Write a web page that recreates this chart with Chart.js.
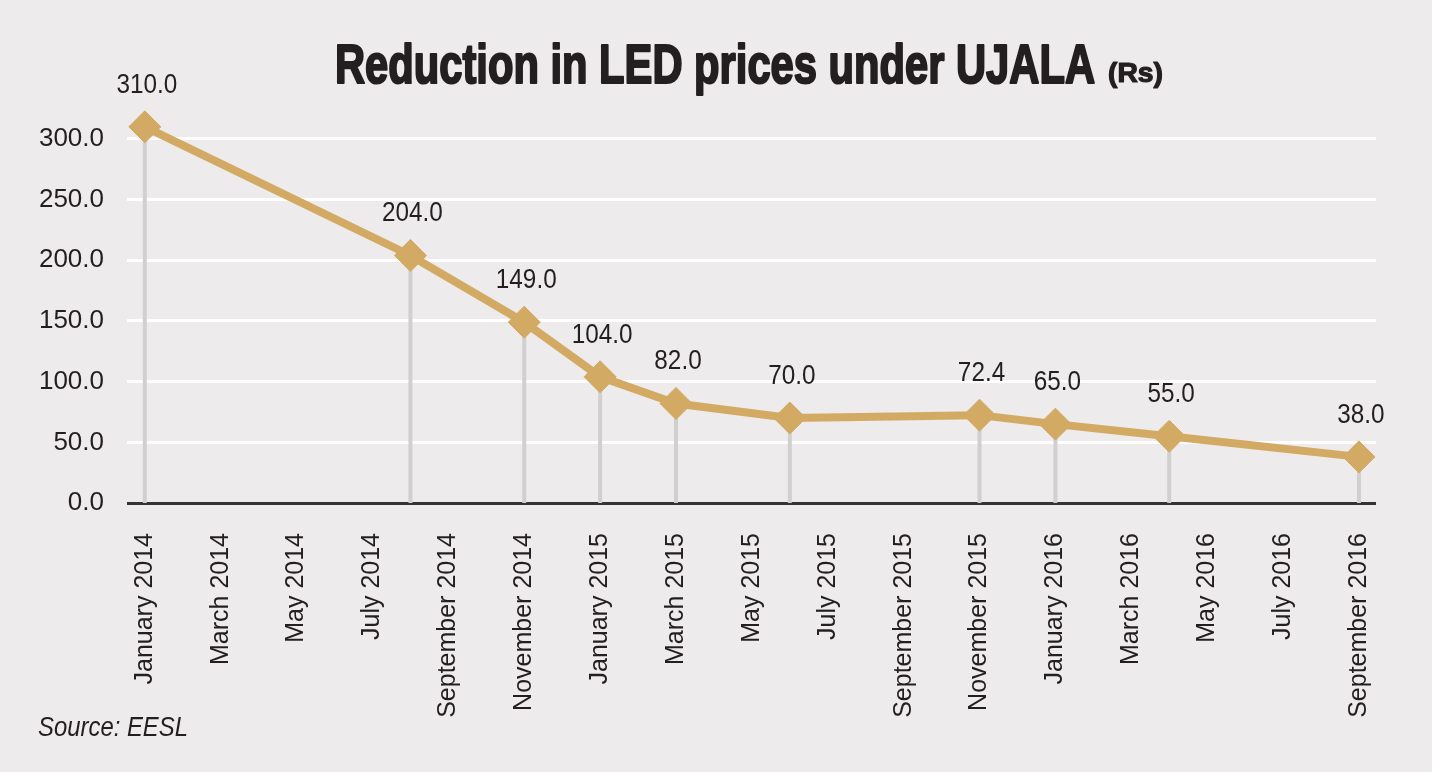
<!DOCTYPE html>
<html>
<head>
<meta charset="utf-8">
<script src="https://cdn.jsdelivr.net/npm/chart.js@4.4.1/dist/chart.umd.min.js"></script>
<style>
  html, body { margin: 0; padding: 0; background: #edebec; }
  #c { display: block; }
</style>
</head>
<body>
<canvas id="c" width="1432" height="772"></canvas>
<script>
// ---- data ----
// months counted from January 2014
const pointMonths = [0, 7, 10, 12, 14, 17, 22, 24, 27, 32];
const prices = [310.0, 204.0, 149.0, 104.0, 82.0, 70.0, 72.4, 65.0, 55.0, 38.0];
const tickMonths = [0, 2, 4, 6, 8, 10, 12, 14, 16, 18, 20, 22, 24, 26, 28, 30, 32];
const tickLabels = ["January 2014", "March 2014", "May 2014", "July 2014", "September 2014", "November 2014",
  "January 2015", "March 2015", "May 2015", "July 2015", "September 2015", "November 2015",
  "January 2016", "March 2016", "May 2016", "July 2016", "September 2016"];
const yTicks = [0, 50, 100, 150, 200, 250, 300];
const titleText = "Reduction in LED prices under UJALA";
const titleUnit = "(Rs)";
const sourceText = "Source: EESL";

const FONT = '"Liberation Sans", Arial, sans-serif';
const INK = '#231f20';
const GOLD = '#d3aa63';
const BG = '#edebec';

const mainData = pointMonths.map((m, i) => ({ x: m, y: prices[i] }));
const dropData = [];
pointMonths.forEach((m, i) => {
  dropData.push({ x: m, y: 0 }, { x: m, y: prices[i] }, { x: m, y: null });
});

// draw text squeezed horizontally to fit a given width (condensed look)
function squeezed(ctx, text, font, x, y, width, align, stroke) {
  ctx.save();
  ctx.font = font;
  const w = ctx.measureText(text).width;
  const sx = width / w;
  ctx.textAlign = 'left';
  let left = x;
  if (align === 'center') left = x - width / 2;
  if (align === 'right') left = x - width;
  ctx.translate(left, y);
  ctx.scale(sx, 1);
  ctx.fillText(text, 0, 0);
  if (stroke) { ctx.lineWidth = stroke; ctx.lineJoin = 'round'; ctx.strokeText(text, 0, 0); }
  ctx.restore();
}

const background = {
  id: 'background',
  beforeDraw(chart) {
    const ctx = chart.ctx;
    ctx.save();
    ctx.fillStyle = BG;
    ctx.fillRect(0, 0, chart.width, chart.height);
    ctx.restore();
  }
};

const texts = {
  id: 'texts',
  afterDraw(chart) {
    const ctx = chart.ctx;
    ctx.save();
    ctx.fillStyle = INK;
    ctx.strokeStyle = INK;
    ctx.textBaseline = 'alphabetic';
    squeezed(ctx, titleText, 'bold 56px ' + FONT, 335, 83, 760, 'left', 2.2);
    squeezed(ctx, titleUnit, 'bold 28px ' + FONT, 1108, 82, 55, 'left', 1.2);
    squeezed(ctx, sourceText, 'italic 28px ' + FONT, 38, 736, 150, 'left', 0);
    ctx.restore();
  }
};

const valueLabels = {
  id: 'valueLabels',
  afterDatasetsDraw(chart) {
    const meta = chart.getDatasetMeta(0);
    const ctx = chart.ctx;
    ctx.save();
    ctx.fillStyle = INK;
    ctx.textBaseline = 'alphabetic';
    meta.data.forEach((pt, i) => {
      const s = prices[i].toFixed(1);
      ctx.font = '27px ' + FONT;
      const w = ctx.measureText(s).width * 0.9;
      squeezed(ctx, s, '27px ' + FONT, pt.x + 2, pt.y - 34, w, 'center', 0);
    });
    ctx.restore();
  }
};

new Chart(document.getElementById('c'), {
  type: 'line',
  data: {
    datasets: [
      {
        data: mainData,
        borderColor: GOLD,
        borderWidth: 8,
        pointStyle: 'rectRot',
        pointRadius: 16,
        pointBackgroundColor: GOLD,
        pointBorderColor: GOLD,
        pointBorderWidth: 1,
        tension: 0,
        clip: false,
        order: 0
      },
      {
        data: dropData,
        borderColor: '#d0d0d0',
        borderWidth: 4,
        pointRadius: 0,
        spanGaps: false,
        order: 1
      }
    ]
  },
  plugins: [background, valueLabels, texts],
  options: {
    responsive: false,
    animation: false,
    events: [],
    layout: { padding: { top: 114.7, right: 56, left: 0, bottom: 0 } },
    plugins: { legend: { display: false }, title: { display: false }, tooltip: { enabled: false } },
    scales: {
      x: {
        type: 'linear',
        min: -0.47,
        max: 32.45,
        grid: { display: false },
        border: { display: false },
        afterBuildTicks(scale) { scale.ticks = tickMonths.map(v => ({ value: v })); },
        afterFit(scale) { scale.height = 269; },
        ticks: {
          autoSkip: false,
          minRotation: 90,
          maxRotation: 90,
          padding: 22,
          color: INK,
          font: { family: FONT, size: 25 },
          callback(value) { const i = tickMonths.indexOf(value); return i >= 0 ? tickLabels[i] : ''; }
        }
      },
      y: {
        min: 0,
        max: 320,
        border: { display: false },
        grid: {
          drawTicks: false,
          color: (c) => (c.tick && c.tick.value === 0 ? '#333333' : '#ffffff'),
          lineWidth: 3
        },
        afterBuildTicks(scale) { scale.ticks = yTicks.map(v => ({ value: v })); },
        afterFit(scale) { scale.width = 127; },
        ticks: {
          padding: 23,
          color: INK,
          font: { family: FONT, size: 26 },
          callback(value) { return Number(value).toFixed(1); }
        }
      }
    }
  }
});
</script>
</body>
</html>
